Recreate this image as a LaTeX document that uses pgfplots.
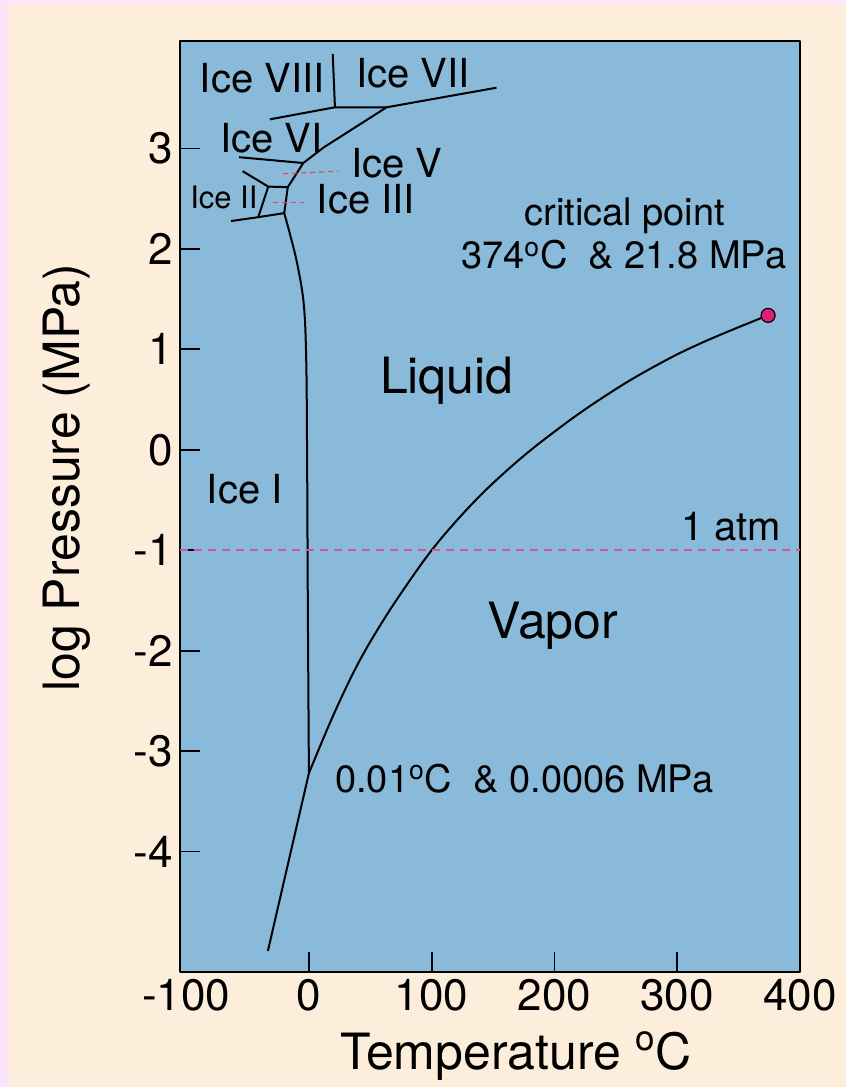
\documentclass[border=0pt]{standalone}
\usepackage{fontspec}
\setmainfont{TeX Gyre Heros}
\usepackage{pgfplots}
\pgfplotsset{compat=1.18}

\definecolor{framepink}{HTML}{FCE4FA}
\definecolor{paper}{HTML}{FDEEDC}
\definecolor{fieldblue}{HTML}{89BAD9}
\definecolor{atmpink}{HTML}{D9568A}
\definecolor{ptrred}{HTML}{E04A5A}
\definecolor{critdot}{HTML}{E11E78}

\begin{document}
\begin{tikzpicture}
\useasboundingbox (-90pt,-57.5pt) rectangle (333pt,486pt);
\fill[framepink] (-90pt,-57.5pt) rectangle (333pt,486pt);
\fill[paper] (-85.5pt,-57.5pt) rectangle (333pt,484pt);
\begin{axis}[
  at={(0pt,0pt)}, anchor=south west,
  width=310pt, height=465.5pt, scale only axis,
  xmin=-105, xmax=400, ymin=-5.2, ymax=4.07,
  axis background/.style={fill=fieldblue},
  axis line style={black, line width=0.9pt},
  tick align=inside, major tick length=10pt,
  every tick/.style={black, line width=0.9pt},
  tick pos=left,
  xtick={0,100,200,300,400},
  extra x ticks={-100}, extra x tick style={major tick length=0pt},
  ytick={-4,-3,-2,-1,0,1,2,3},
  tick label style={font=\fontsize{22}{26}\selectfont,
    /pgf/number format/assume math mode=true},
  xlabel={Temperature \textsuperscript{o}C},
  ylabel={log Pressure (MPa)},
  label style={font=\fontsize{25}{30}\selectfont},
  xlabel style={at={(axis description cs:0.542,-0.1042)}, anchor=base},
  ylabel style={at={(axis description cs:-0.1621,0.531)}, anchor=base},
  clip=false,
  line join=round,
]

% liquid--vapor boundary, triple point to critical point
\addplot[black, line width=1pt, smooth, tension=0.6] coordinates {
  (0.01,-3.22) (20,-2.64) (40,-2.13) (60,-1.71) (80,-1.34) (100,-1.0)
  (120,-0.71) (140,-0.45) (160,-0.22) (180,-0.01) (200,0.18) (220,0.36)
  (240,0.525) (260,0.68) (280,0.82) (300,0.95) (320,1.065) (340,1.17)
  (360,1.27) (374,1.338)};

% solid--vapor boundary
\addplot[black, line width=1pt] coordinates {(-33.4,-4.99) (0.01,-3.22)};

% Ice I melting curve
\addplot[black, line width=1pt, smooth, tension=0.6] coordinates {
  (0.01,-3.22) (-0.9,-1.5) (-1.5,0.0) (-2.2,0.9) (-4.2,1.45)
  (-9.5,1.85) (-15.5,2.15) (-20.1,2.356)};

% high-pressure ice boundaries
\addplot[black, line width=1pt] coordinates {
  (-20.1,2.356) (-17.2,2.615) (-4.6,2.855) (12,3.01) (63.3,3.41) (152.8,3.605)};
\addplot[black, line width=1pt] coordinates {(-31.8,3.29) (21.2,3.41) (63.3,3.41)};
\addplot[black, line width=1pt] coordinates {(19.4,3.94) (21.2,3.41)};
\addplot[black, line width=1pt] coordinates {(-56.8,2.913) (-4.6,2.855)};
\addplot[black, line width=1pt] coordinates {(-54.0,2.774) (-33.1,2.62) (-17.2,2.615)};
\addplot[black, line width=1pt] coordinates {(-33.1,2.62) (-41.3,2.316)};
\addplot[black, line width=1pt] coordinates {(-63.5,2.277) (-41.3,2.316) (-20.1,2.356)};

% pointers to the Ice V and Ice III fields
\addplot[ptrred, line width=0.6pt, dash pattern=on 2.5pt off 2pt] coordinates {(-20.9,2.748) (23.9,2.774)};
\addplot[ptrred, line width=0.6pt, dash pattern=on 2.5pt off 2pt] coordinates {(-29.6,2.465) (-4.1,2.465)};

% 1 atm
\addplot[atmpink, line width=0.8pt, dash pattern=on 4pt off 3pt] coordinates {(-105,-1) (400,-1)};

% critical point
\addplot[only marks, mark=*, mark size=3.5pt,
  mark options={fill=critdot, draw=black, line width=0.6pt}] coordinates {(374,1.338)};

\node[anchor=base west, font=\fontsize{20}{24}\selectfont] at (axis cs:-94.5,3.558) {Ice VIII};
\node[anchor=base west, font=\fontsize{20}{24}\selectfont] at (axis cs:32.8,3.61) {Ice VII};
\node[anchor=base west, font=\fontsize{20}{24}\selectfont] at (axis cs:-77.9,2.963) {Ice VI};
\node[anchor=base west, font=\fontsize{20}{24}\selectfont] at (axis cs:28.8,2.714) {Ice V};
\node[anchor=base west, font=\fontsize{20}{24}\selectfont] at (axis cs:0.8,2.35) {Ice III};
\node[anchor=base west, font=\fontsize{15.5}{18}\selectfont] at (axis cs:-102.4,2.40) {Ice II};
\node[anchor=base west, font=\fontsize{20}{24}\selectfont] at (axis cs:-88.8,-0.536) {Ice I};
\node[anchor=base, font=\fontsize{25}{30}\selectfont] at (axis cs:112.4,0.56) {Liquid};
\node[anchor=base, font=\fontsize{25}{30}\selectfont] at (axis cs:198.7,-1.88) {Vapor};
\node[anchor=base, font=\fontsize{19}{23}\selectfont] at (axis cs:257.3,2.233) {critical point};
\node[anchor=base, font=\fontsize{19}{23}\selectfont] at (axis cs:256.3,1.80) {374\textsuperscript{o}C\ \ \& 21.8 MPa};
\node[anchor=base east, font=\fontsize{20}{24}\selectfont] at (axis cs:390.5,-0.904) {1 atm};
\node[anchor=base west, font=\fontsize{19}{23}\selectfont] at (axis cs:15.7,-3.41) {0.01\textsuperscript{o}C\ \ \& 0.0006 MPa};
\end{axis}
\end{tikzpicture}
\end{document}
